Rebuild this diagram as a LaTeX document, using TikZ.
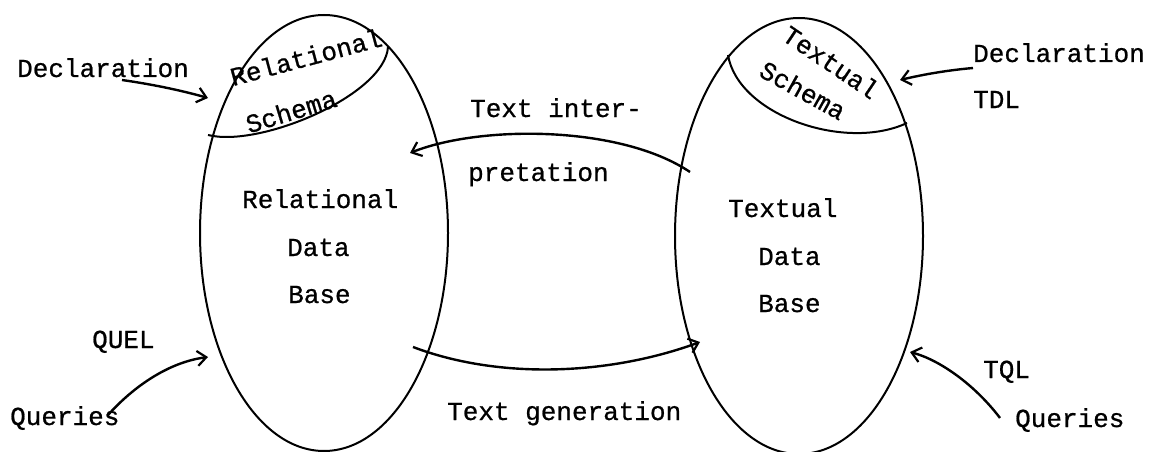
\documentclass[tikz,border=0pt]{standalone}
\usepackage{fontspec}
\setmonofont{Liberation Mono}[FakeBold=0.7]
\usetikzlibrary{arrows.meta,shapes.geometric}
\begin{document}
\begin{tikzpicture}[x=1pt,y=-1pt,
  lbl/.style={inner sep=0pt,anchor=base west,font=\ttfamily\fontsize{26}{30}\selectfont},
  rlbl/.style={inner sep=0pt,anchor=center,font=\ttfamily\fontsize{26}{30}\selectfont},
  egg/.style={draw,ellipse,line width=2pt,inner sep=0pt,minimum width=248pt,minimum height=436pt},
  schemaline/.style={line width=2pt},
  flow/.style={line width=2.4pt,-{Straight Barb[length=9pt,width=15pt,line width=2.2pt]}}]
\useasboundingbox (0,0) rectangle (1159,452);
% ellipses
\node[egg] (L) at (324,233) {};
\node[egg] (R) at (799,236) {};
% schema boundaries
\coordinate (ls1) at (208,135);
\coordinate (ls2) at (388,47);
\coordinate (rs1) at (728,55);
\coordinate (rs2) at (907,123);
\draw[schemaline] (ls1) .. controls (260,148) and (385,95) .. (ls2);
\draw[schemaline] (rs1) .. controls (738,115) and (845,152) .. (rs2);
% schema labels
\node[rlbl,rotate=15] (relS) at (306,57) {Relational};
\node[rlbl,rotate=17] (schL) at (291,111) {Schema};
\node[rlbl,rotate=-34] (texS) at (831,62) {Textual};
\node[rlbl,rotate=-29] (schR) at (803,90) {Schema};
% inner labels
\node[lbl] (rel) at (242,208) {Relational};
\node[lbl] (dataL) at (287,256) {Data};
\node[lbl] (baseL) at (288,303) {Base};
\node[lbl] (tex) at (728,217) {Textual};
\node[lbl] (dataR) at (758,265) {Data};
\node[lbl] (baseR) at (758,312) {Base};
% outer labels
\node[lbl] (declL) at (17,77) {Declaration};
\node[lbl] (quel) at (92,348) {QUEL};
\node[lbl] (queL) at (10,425) {Queries};
\node[lbl] (declR) at (973,62) {Declaration};
\node[lbl] (tdl) at (973,108) {TDL};
\node[lbl] (tql) at (983,378) {TQL};
\node[lbl] (queR) at (1015,427) {Queries};
\node[lbl] (ti1) at (470,117) {Text inter-};
\node[lbl] (ti2) at (468,181) {pretation};
\node[lbl] (tg) at (447,420) {Text generation};
% arrow end points
\coordinate (a1s) at (122,80);  \coordinate (a1e) at (208,98);
\coordinate (a2s) at (108,415); \coordinate (a2e) at (208,357);
\coordinate (a3s) at (413,347); \coordinate (a3e) at (700,342);
\coordinate (a4s) at (690,172); \coordinate (a4e) at (410,153);
\coordinate (a5s) at (973,68);  \coordinate (a5e) at (900,80);
\coordinate (a6s) at (1000,418);\coordinate (a6e) at (910,352);
\draw[flow] (a1s) .. controls (150,84) and (180,90) .. (a1e);
\draw[flow] (a2s) .. controls (135,385) and (170,362) .. (a2e);
\draw[flow] (a3s) .. controls (500,380) and (610,375) .. (a3e);
\draw[flow] (a4s) .. controls (620,125) and (480,125) .. (a4e);
\draw[flow] (a5s) .. controls (950,70) and (925,74) .. (a5e);
\draw[flow] (a6s) .. controls (975,385) and (940,360) .. (a6e);
\end{tikzpicture}
\end{document}
